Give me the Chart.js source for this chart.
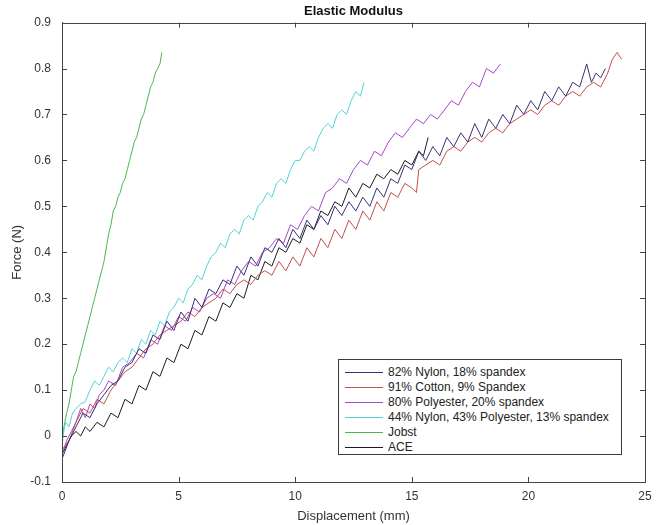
<!DOCTYPE html>
<html>
<head>
<meta charset="utf-8">
<script src="https://cdn.jsdelivr.net/npm/chart.js@4/dist/chart.umd.min.js"></script>
<style>
  body { margin: 0; background: #fff; }
  #wrap { position: relative; width: 662px; height: 525px; }
  #legend {
    position: absolute; left: 338px; top: 359px; width: 284px; height: 96px;
    border: 1px solid #3a3a3a; background: #fff;
    font-family: "Liberation Sans", Arial, sans-serif; font-size: 12px; color: #222;
    box-sizing: border-box; padding-top: 5px;
  }
  #legend .row { height: 15px; line-height: 15px; position: relative; }
  #legend .swatch { position: absolute; left: 6px; top: 7px; width: 38px; height: 0; border-top: 1px solid; }
  #legend .txt { position: absolute; left: 49px; top: 0; white-space: nowrap; }
</style>
</head>
<body>
<div id="wrap">
  <canvas id="mcanvas" width="662" height="525"></canvas>
  <div id="legend"></div>
</div>
<script>
// series labels and colours
var labels = ['82% Nylon, 18% spandex', '91% Cotton, 9% Spandex', '80% Polyester, 20% spandex',
              '44% Nylon, 43% Polyester, 13% spandex', 'Jobst', 'ACE'];
var colors = ['#3a2f78', '#c0504d', '#a648c6', '#4fd3da', '#4cb84c', '#1c1c1c'];

// [displacement mm, force N]
var nylon82 = [[0,-0.05],[0.3,-0.01],[0.6,0.02],[0.9,0.05],[1.2,0.04],[1.5,0.07],[1.8,0.09],[2.1,0.11],[2.4,0.12],
  [2.7,0.15],[3.0,0.16],[3.3,0.19],[3.6,0.18],[3.9,0.22],[4.2,0.21],[4.5,0.25],[4.8,0.23],[5.1,0.27],[5.4,0.25],
  [5.7,0.3],[6.0,0.28],[6.3,0.32],[6.6,0.31],[6.9,0.34],[7.2,0.33],[7.5,0.37],[7.8,0.35],[8.1,0.39],[8.4,0.37],
  [8.7,0.41],[9.0,0.4],[9.3,0.43],[9.6,0.41],[9.9,0.45],[10.2,0.43],[10.5,0.47],[10.8,0.45],[11.1,0.48],[11.4,0.46],
  [11.7,0.5],[12.0,0.48],[12.3,0.51],[12.6,0.49],[12.9,0.52],[13.2,0.5],[13.5,0.54],[13.8,0.52],[14.1,0.56],[14.4,0.55],
  [14.7,0.59],[15.0,0.58],[15.3,0.62],[15.6,0.6],[15.9,0.63],[16.2,0.61],[16.5,0.65],[16.8,0.63],[17.1,0.66],[17.4,0.64],
  [17.7,0.68],[18.0,0.65],[18.3,0.69],[18.6,0.67],[18.9,0.7],[19.2,0.68],[19.5,0.72],[19.8,0.7],[20.1,0.73],[20.4,0.71],
  [20.7,0.75],[21.0,0.73],[21.3,0.76],[21.6,0.74],[21.9,0.77],[22.2,0.76],[22.5,0.81],[22.7,0.77],[22.9,0.79],[23.1,0.78],[23.3,0.8]];
var cotton91 = [[0,-0.03],[0.3,-0.01],[0.6,0.03],[0.9,0.06],[1.2,0.05],[1.5,0.08],[1.8,0.07],[2.1,0.1],[2.4,0.12],
  [2.7,0.14],[3.0,0.15],[3.3,0.17],[3.6,0.19],[3.9,0.2],[4.2,0.22],[4.5,0.23],[4.8,0.24],[5.1,0.25],[5.4,0.27],
  [5.7,0.26],[6.0,0.28],[6.3,0.29],[6.6,0.3],[6.9,0.32],[7.2,0.31],[7.5,0.33],[7.8,0.34],[8.1,0.33],[8.4,0.35],
  [8.7,0.36],[9.0,0.35],[9.3,0.38],[9.6,0.36],[9.9,0.39],[10.2,0.37],[10.5,0.41],[10.8,0.39],[11.1,0.43],[11.4,0.41],
  [11.7,0.45],[12.0,0.43],[12.3,0.47],[12.6,0.45],[12.9,0.49],[13.2,0.47],[13.5,0.51],[13.8,0.49],[14.1,0.53],[14.4,0.52],
  [14.7,0.55],[15.0,0.54],[15.2,0.53],[15.3,0.58],[15.6,0.59],[15.9,0.6],[16.2,0.59],[16.5,0.62],[16.8,0.63],[17.1,0.62],
  [17.4,0.64],[17.7,0.65],[18.0,0.64],[18.3,0.66],[18.6,0.67],[18.9,0.66],[19.2,0.68],[19.5,0.69],[19.8,0.7],[20.1,0.71],
  [20.4,0.7],[20.7,0.72],[21.0,0.73],[21.3,0.72],[21.6,0.74],[21.9,0.75],[22.2,0.74],[22.5,0.76],[22.8,0.77],[23.1,0.76],
  [23.4,0.79],[23.6,0.82],[23.8,0.835],[24.0,0.82]];
var poly80 = [[0,-0.04],[0.2,-0.01],[0.4,0.01],[0.6,0.03],[0.8,0.06],[1.0,0.04],[1.2,0.07],[1.4,0.06],[1.6,0.09],
  [1.8,0.1],[2.0,0.12],[2.3,0.11],[2.6,0.15],[2.9,0.16],[3.2,0.18],[3.5,0.17],[3.8,0.21],[4.1,0.2],[4.4,0.24],
  [4.7,0.23],[5.0,0.26],[5.3,0.25],[5.6,0.28],[5.9,0.27],[6.2,0.3],[6.5,0.31],[6.8,0.3],[7.1,0.34],[7.4,0.33],
  [7.7,0.36],[8.0,0.38],[8.3,0.37],[8.6,0.4],[8.9,0.41],[9.2,0.43],[9.5,0.42],[9.8,0.46],[10.1,0.45],[10.4,0.48],
  [10.7,0.5],[11.0,0.49],[11.3,0.53],[11.6,0.54],[11.9,0.56],[12.2,0.55],[12.5,0.58],[12.8,0.6],[13.1,0.59],[13.4,0.62],
  [13.7,0.61],[14.0,0.64],[14.3,0.66],[14.6,0.65],[14.9,0.67],[15.2,0.69],[15.5,0.68],[15.8,0.7],[16.1,0.69],[16.4,0.71],
  [16.7,0.73],[17.0,0.72],[17.3,0.75],[17.6,0.77],[17.9,0.76],[18.2,0.8],[18.5,0.79],[18.8,0.81]];
var nylon44 = [[0,-0.01],[0.15,0.03],[0.3,0.02],[0.45,0.05],[0.6,0.06],[0.8,0.07],[1.0,0.075],[1.2,0.1],[1.4,0.12],
  [1.6,0.11],[1.8,0.13],[2.0,0.15],[2.2,0.14],[2.4,0.16],[2.6,0.17],[2.8,0.16],[3.0,0.19],[3.2,0.18],[3.4,0.21],
  [3.6,0.2],[3.8,0.23],[4.0,0.22],[4.2,0.25],[4.4,0.24],[4.6,0.27],[4.8,0.28],[5.0,0.3],[5.2,0.29],[5.4,0.32],
  [5.6,0.33],[5.8,0.35],[6.0,0.34],[6.2,0.37],[6.4,0.39],[6.6,0.4],[6.8,0.42],[7.0,0.41],[7.2,0.44],[7.4,0.45],
  [7.6,0.44],[7.8,0.47],[8.0,0.48],[8.2,0.47],[8.4,0.5],[8.6,0.51],[8.8,0.53],[9.0,0.52],[9.2,0.55],[9.4,0.56],
  [9.6,0.55],[9.8,0.58],[10.0,0.6],[10.2,0.6],[10.4,0.62],[10.6,0.63],[10.8,0.62],[11.0,0.65],[11.2,0.67],[11.4,0.68],
  [11.6,0.67],[11.8,0.7],[12.0,0.71],[12.2,0.7],[12.4,0.73],[12.6,0.75],[12.8,0.74],[12.95,0.77]];
var jobst = [[0,-0.03],[0.05,0.01],[0.12,0.03],[0.2,0.05],[0.3,0.07],[0.4,0.1],[0.5,0.13],[0.6,0.14],[0.7,0.16],
  [0.8,0.18],[0.9,0.2],[1.0,0.22],[1.1,0.24],[1.2,0.26],[1.3,0.28],[1.4,0.3],[1.5,0.32],[1.6,0.34],[1.7,0.36],
  [1.8,0.38],[1.9,0.41],[2.0,0.44],[2.1,0.46],[2.2,0.49],[2.3,0.5],[2.4,0.52],[2.5,0.53],[2.6,0.55],[2.7,0.56],
  [2.8,0.58],[2.9,0.6],[3.0,0.62],[3.1,0.64],[3.2,0.65],[3.3,0.67],[3.4,0.69],[3.5,0.7],[3.6,0.72],[3.7,0.74],
  [3.8,0.76],[3.9,0.77],[4.0,0.79],[4.1,0.8],[4.2,0.81],[4.28,0.835]];
var ace = [[0,-0.04],[0.2,-0.02],[0.4,0.0],[0.6,0.01],[0.8,0.0],[1.0,0.02],[1.2,0.01],[1.5,0.03],[1.8,0.02],
  [2.1,0.05],[2.4,0.04],[2.7,0.08],[3.0,0.07],[3.3,0.11],[3.6,0.1],[3.9,0.14],[4.2,0.13],[4.5,0.17],[4.8,0.16],
  [5.1,0.2],[5.4,0.19],[5.7,0.23],[6.0,0.22],[6.3,0.26],[6.6,0.25],[6.9,0.29],[7.2,0.28],[7.5,0.31],[7.8,0.3],
  [8.1,0.35],[8.4,0.34],[8.7,0.38],[9.0,0.37],[9.3,0.41],[9.6,0.4],[9.9,0.43],[10.2,0.42],[10.5,0.46],[10.8,0.45],
  [11.1,0.49],[11.4,0.48],[11.7,0.51],[12.0,0.5],[12.3,0.54],[12.6,0.52],[12.9,0.55],[13.2,0.54],[13.5,0.57],[13.8,0.56],
  [14.1,0.58],[14.4,0.57],[14.7,0.6],[15.0,0.59],[15.3,0.62],[15.5,0.61],[15.7,0.65]];

var series = [nylon82, cotton91, poly80, nylon44, jobst, ace];
var xTicks = [0, 5, 10, 15, 20, 25];
var yTicks = [-0.1, 0, 0.1, 0.2, 0.3, 0.4, 0.5, 0.6, 0.7, 0.8, 0.9];

var fontFam = '"Liberation Sans", Arial, sans-serif';
var axisColor = '#444';

var datasets = [];
var $each = function(arr, fn){ for (var i = 0; i < arr.length; i++) fn(i, arr[i]); };
$each(series, function(i, s){
  datasets.push({
    label: labels[i],
    data: s,
    borderColor: colors[i],
    borderWidth: 1,
    pointRadius: 0,
    showLine: true,
    fill: false,
    tension: 0
  });
});

// box around the plot + inward tick marks on all four sides
var boxPlugin = {
  id: 'box',
  afterDraw: function(chart){
    var ctx = chart.ctx, a = chart.chartArea;
    var xs = chart.scales.x, ys = chart.scales.y;
    ctx.save();
    ctx.strokeStyle = axisColor;
    ctx.lineWidth = 1;
    ctx.strokeRect(Math.round(a.left) + 0.5, Math.round(a.top) + 0.5,
                   Math.round(a.right - a.left), Math.round(a.bottom - a.top));
    ctx.beginPath();
    xTicks.forEach(function(v){
      var px = Math.round(xs.getPixelForValue(v)) + 0.5;
      ctx.moveTo(px, a.bottom); ctx.lineTo(px, a.bottom - 5);
      ctx.moveTo(px, a.top); ctx.lineTo(px, a.top + 5);
    });
    yTicks.forEach(function(v){
      var py = Math.round(ys.getPixelForValue(v)) + 0.5;
      ctx.moveTo(a.left, py); ctx.lineTo(a.left + 5, py);
      ctx.moveTo(a.right, py); ctx.lineTo(a.right - 5, py);
    });
    ctx.stroke();
    ctx.restore();
  }
};

var config = {
  type: 'scatter',
  data: { datasets: datasets },
  options: {
    responsive: false,
    animation: false,
    layout: { padding: { left: 0, right: 17, top: 0, bottom: 0 } },
    plugins: {
      legend: { display: false },
      tooltip: { enabled: false },
      title: {
        display: true,
        text: 'Elastic Modulus',
        fullSize: false,
        color: '#111',
        font: { family: fontFam, size: 13, weight: 'bold' },
        padding: { top: 4, bottom: 3 }
      }
    },
    scales: {
      x: {
        type: 'linear', min: 0, max: 25,
        afterFit: function(s){ s.height = 43; },
        afterBuildTicks: function(s){ s.ticks = xTicks.map(function(v){ return { value: v }; }); },
        grid: { display: false, drawTicks: false },
        border: { display: true, color: axisColor },
        ticks: { color: '#333', padding: 7, maxRotation: 0, font: { family: fontFam, size: 12 } },
        title: { display: true, text: 'Displacement (mm)', color: '#333',
                 font: { family: fontFam, size: 13 }, padding: { top: 0, bottom: 1 } }
      },
      y: {
        type: 'linear', min: -0.1, max: 0.9,
        afterFit: function(s){ s.width = 62; },
        afterBuildTicks: function(s){ s.ticks = yTicks.map(function(v){ return { value: v }; }); },
        grid: { display: false, drawTicks: false },
        border: { display: true, color: axisColor },
        ticks: {
          color: '#333', padding: 11, font: { family: fontFam, size: 12 },
          callback: function(v){ return String(Number(v.toFixed(1))); }
        },
        title: { display: true, text: 'Force (N)', color: '#333',
                 font: { family: fontFam, size: 13 }, padding: { top: 10, bottom: 0 } }
      }
    }
  },
  plugins: [boxPlugin]
};

var mctx = document.getElementById('mcanvas').getContext('2d');
var mchart = new Chart(mctx, config);

// legend built from the datasets
var lg = document.getElementById('legend');
$each(datasets, function(i, ds){
  var row = document.createElement('div');
  row.className = 'row';
  row.innerHTML = '<span class="swatch" style="border-color:' + ds.borderColor + '"></span><span class="txt">' + ds.label + '</span>';
  lg.appendChild(row);
});
</script>
</body>
</html>
